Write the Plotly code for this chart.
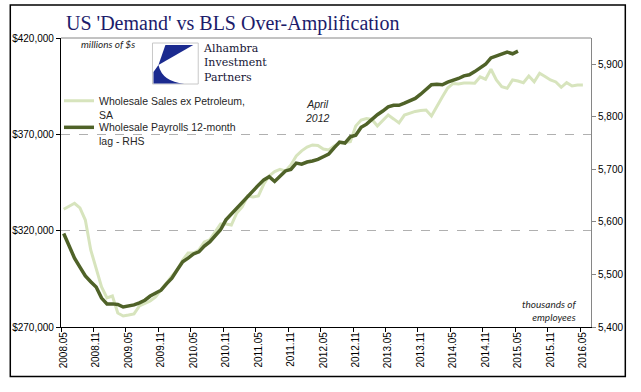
import plotly.graph_objects as go

# ---------------- data ----------------
tick_labels = ["2008.05", "2008.11", "2009.05", "2009.11", "2010.05", "2010.11",
               "2011.05", "2011.11", "2012.05", "2012.11", "2013.05", "2013.11",
               "2014.05", "2014.11", "2015.05", "2015.11", "2016.05"]
n_categories = 98  # monthly categories 2008.05 .. 2016.06

sales = [331100, 332800, 334200, 331800, 325500, 310000, 300600, 290800, 285100, 286100,
         277300, 275700, 276200, 276800, 280900, 282000, 283500, 285600, 289200, 293400,
         296500, 299600, 304800, 308400, 308400, 310000, 314100, 315200, 319300, 323500,
         323500, 322900, 329200, 332300, 338000, 337500, 338000, 344200, 348400, 350700,
         351800, 351000, 354100, 358800, 361400, 363400, 364500, 364200, 362400, 361900,
         363900, 365300, 365800, 366200, 374300, 377400, 378200, 377700, 374300, 377400,
         380000, 378000, 375900, 380000, 381100, 381900, 382400, 382600, 379500, 384700,
         389400, 394000, 396400, 396100, 396600, 396600, 396500, 399800, 398600, 403800,
         398200, 394700, 393900, 398200, 397700, 396800, 400300, 397300, 401700, 400000,
         398200, 397200, 394400, 396800, 395100, 395600, 395600]

payrolls = [5578, 5553, 5531, 5514, 5497, 5486, 5476, 5455, 5444, 5444,
            5443, 5438, 5440, 5442, 5446, 5451, 5459, 5465, 5470, 5482,
            5493, 5509, 5524, 5531, 5539, 5543, 5554, 5562, 5573, 5585,
            5604, 5615, 5626, 5638, 5649, 5661, 5670, 5680, 5686, 5677,
            5687, 5697, 5700, 5712, 5710, 5714, 5716, 5719, 5724, 5729,
            5741, 5752, 5750, 5762, 5765, 5780, 5786, 5796, 5804, 5811,
            5819, 5822, 5822, 5826, 5830, 5835, 5843, 5851, 5861, 5862,
            5861, 5866, 5869, 5873, 5878, 5880, 5886, 5894, 5900, 5912,
            5916, 5919, 5923, 5920, 5925]

left_ticks = [270000, 320000, 370000, 420000]
right_ticks = [5400, 5500, 5600, 5700, 5800, 5900]

# ---------------- geometry ----------------
W, H = 641, 392
L, R, T, B = 58, 591, 38, 327


def px(x):
    return (x - L) / (R - L)


def py(y):
    return (B - y) / (B - T)


LIGHT = "#d7e4bd"
DARK = "#4f6228"
SANS = "Liberation Sans"

fig = go.Figure()
fig.add_trace(go.Scatter(
    x=list(range(len(sales))), y=sales, mode="lines",
    name="Wholesale Sales ex Petroleum,<br>SA",
    line=dict(color=LIGHT, width=3), yaxis="y", legend="legend"))
fig.add_trace(go.Scatter(
    x=list(range(len(payrolls))), y=payrolls, mode="lines",
    name="Wholesale Payrolls 12-month<br>lag - RHS",
    line=dict(color=DARK, width=3.5), yaxis="y2", legend="legend2"))

tickfont = dict(family=SANS, size=10, color="#000000")
legfont = dict(family=SANS, size=10.5, color="#262626")

fig.update_layout(
    width=W, height=H,
    margin=dict(l=L, r=W - R, t=T, b=H - B),
    paper_bgcolor="white", plot_bgcolor="white",
    showlegend=True,
    legend=dict(x=px(56), y=py(87.5), xanchor="left", yanchor="top",
                bgcolor="rgba(0,0,0,0)", font=legfont, valign="top", itemwidth=30),
    legend2=dict(x=px(56), y=py(114), xanchor="left", yanchor="top",
                 bgcolor="rgba(0,0,0,0)", font=legfont, valign="top", itemwidth=30),
    xaxis=dict(range=[-0.5, n_categories - 0.5],
               tickmode="array", tickvals=[i * 6 for i in range(len(tick_labels))],
               ticktext=tick_labels, tickangle=-90, ticks="", tickfont=tickfont,
               showline=True, linecolor="black", linewidth=1.2, showgrid=False, zeroline=False,
               minor=dict(ticks="outside", ticklen=4, tickcolor="black", tick0=-0.5, dtick=6, showgrid=False)),
    yaxis=dict(range=[270000, 420000], tickmode="array", tickvals=left_ticks,
               tickformat="$,.0f", tickfont=tickfont, ticks="outside", ticklen=4, tickcolor="black",
               showline=True, linecolor="black", linewidth=1.2, zeroline=False,
               showgrid=True, gridcolor="#b0b0b0", griddash="dash", gridwidth=1),
    yaxis2=dict(range=[5400, 5950], overlaying="y", side="right", tickmode="array",
                tickvals=right_ticks, tickformat=",", tickfont=tickfont, ticks="outside",
                ticklen=4, tickcolor="#868686", showline=True, linecolor="#868686",
                linewidth=1, showgrid=False, zeroline=False),
)

shapes = []
# top border of plot area
shapes.append(dict(type="line", xref="paper", yref="paper", x0=0, x1=1, y0=1, y1=1,
                   line=dict(color="#868686", width=1)))
# outer frame
shapes.append(dict(type="rect", xref="paper", yref="paper", x0=px(7), x1=px(625.5),
                   y0=py(376.5), y1=py(5), line=dict(color="black", width=1.5)))
# logo box
shapes.append(dict(type="rect", xref="paper", yref="paper", x0=px(150), x1=px(196),
                   y0=py(84), y1=py(43), line=dict(color="#c8c8c8", width=1), fillcolor="white"))
BLUE = "#1b2a8f"
upper = "M {},{} L {},{} L {},{} Z".format(px(163), py(45), px(191), py(45), px(156), py(65))
lower = "M {},{} Q {},{} {},{} L {},{} L {},{} Z".format(
    px(156), py(65), px(160), py(82), px(182), py(83.5), px(151), py(83.5), px(151), py(72))
shapes.append(dict(type="path", xref="paper", yref="paper", path=upper,
                   fillcolor=BLUE, line=dict(width=0)))
shapes.append(dict(type="path", xref="paper", yref="paper", path=lower,
                   fillcolor=BLUE, line=dict(width=0)))
fig.update_layout(shapes=shapes)

ann = []
ann.append(dict(text="US 'Demand' vs BLS Over-Amplification", x=px(61), y=py(23),
                xref="paper", yref="paper", xanchor="left", yanchor="middle", showarrow=False,
                font=dict(family="Liberation Serif", size=20, color="#1c1c6b")))
ann.append(dict(text="Alhambra<br>Investment<br>Partners", x=px(199), y=py(63),
                xref="paper", yref="paper", xanchor="left", yanchor="middle", showarrow=False,
                align="left", font=dict(family="DejaVu Serif", size=11, color="#151535")))
ann.append(dict(text="<i>millions of $s</i>", x=px(76), y=py(44), xref="paper", yref="paper",
                xanchor="left", yanchor="middle", showarrow=False,
                font=dict(family="Lato, Open Sans", size=10, color="#262626")))
ann.append(dict(text="<i>April<br>2012</i>", x=px(316), y=py(111), xref="paper", yref="paper",
                xanchor="center", yanchor="middle", showarrow=False, align="center",
                font=dict(family=SANS, size=10.5, color="#262626")))
ann.append(dict(text="<i>thousands of<br>employees</i>", x=px(549), y=py(310), xref="paper",
                yref="paper", xanchor="center", yanchor="middle", showarrow=False, align="right",
                font=dict(family="Lato, Open Sans", size=10, color="#262626")))
fig.update_layout(annotations=ann)

fig.write_html("out.html", config={"displayModeBar": False},
               post_script="document.body.style.margin='0px';")
